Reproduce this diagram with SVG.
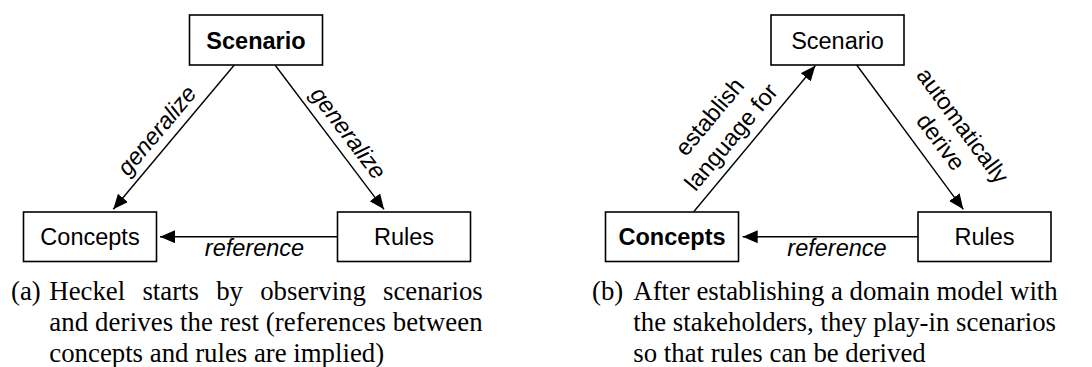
<svg xmlns="http://www.w3.org/2000/svg" width="1092" height="367" viewBox="0 0 1092 367">
  <style>
    .box { fill: #ffffff; stroke: #000000; stroke-width: 1.6; }
    .lbl { font-family: "Liberation Sans", Arial, sans-serif; font-size: 23.5px; fill: #000000; text-anchor: middle; }
    .bold { font-weight: bold; }
    .edge { stroke: #000000; stroke-width: 1.4; fill: none; marker-end: url(#arrow); }
    .elbl { font-family: "Liberation Sans", Arial, sans-serif; font-size: 23.5px; fill: #000000; text-anchor: middle; }
    .it { font-style: italic; }
    .cap { font-family: "Liberation Serif", "Times New Roman", serif; font-size: 26.8px; fill: #000000; }
  </style>
  <defs>
    <marker id="arrow" markerUnits="userSpaceOnUse" markerWidth="16" markerHeight="14" refX="15" refY="6.5" orient="auto">
      <path d="M0,0 L15,6.5 L0,13 Z" fill="#000000"/>
    </marker>
  </defs>
  <rect width="1092" height="367" fill="#ffffff"/>

  <!-- (a) scenario-first workflow -->
  <g id="connectors-a">
    <line class="edge" x1="234.3" y1="65" x2="113.3" y2="209.3"/>
    <line class="edge" x1="275" y1="65" x2="384" y2="209.3"/>
    <line class="edge" x1="337.3" y1="236.7" x2="160" y2="236.7"/>
    <text class="elbl it" transform="translate(162.9,135.6) rotate(-50)">generalize</text>
    <text class="elbl it" transform="translate(341.9,137.8) rotate(52.9)">generalize</text>
    <text class="elbl it" x="254.5" y="256">reference</text>
  </g>
  <g id="a-scenario">
    <rect class="box" x="189.5" y="15" width="133" height="50"/>
    <text class="lbl bold" x="256" y="48.5">Scenario</text>
  </g>
  <g id="a-concepts">
    <rect class="box" x="23.5" y="212" width="133" height="49.5"/>
    <text class="lbl" x="90" y="245">Concepts</text>
  </g>
  <g id="a-rules">
    <rect class="box" x="337.5" y="212" width="133" height="49.5"/>
    <text class="lbl" x="404" y="245">Rules</text>
  </g>

  <!-- (b) domain-model-first workflow -->
  <g id="connectors-b">
    <line class="edge" x1="693.7" y1="211.7" x2="815.3" y2="65.7"/>
    <line class="edge" x1="856.7" y1="65" x2="963.3" y2="209.3"/>
    <line class="edge" x1="917.7" y1="236.7" x2="742.7" y2="236.7"/>
    <text class="elbl" transform="translate(715.6,121.9) rotate(-50.2)">establish</text>
    <text class="elbl" transform="translate(737.3,142.1) rotate(-50.2)">language for</text>
    <text class="elbl" transform="translate(956.2,130.3) rotate(53.5)">automatically</text>
    <text class="elbl" transform="translate(934.4,146.6) rotate(53.5)">derive</text>
    <text class="elbl it" x="837" y="256">reference</text>
  </g>
  <g id="b-scenario">
    <rect class="box" x="771" y="15" width="133" height="50"/>
    <text class="lbl" x="837.5" y="48.5">Scenario</text>
  </g>
  <g id="b-concepts">
    <rect class="box" x="605.5" y="212" width="133" height="49.5"/>
    <text class="lbl bold" x="672" y="245">Concepts</text>
  </g>
  <g id="b-rules">
    <rect class="box" x="918" y="212" width="133" height="49.5"/>
    <text class="lbl" x="984.5" y="245">Rules</text>
  </g>

  <!-- captions: first lines justified word by word -->
  <g id="caption-a" class="cap">
    <text x="11" y="300">(a)</text>
    <text x="49.3" y="300">Heckel</text>
    <text x="142.4" y="300">starts</text>
    <text x="216.2" y="300">by</text>
    <text x="260.2" y="300">observing</text>
    <text x="383" y="300">scenarios</text>
    <text x="49.3" y="331" textLength="433.4" lengthAdjust="spacing">and derives the rest (references between</text>
    <text x="49.3" y="361.5">concepts and rules are implied)</text>
  </g>
  <g id="caption-b" class="cap">
    <text x="592" y="300">(b)</text>
    <text x="633.3" y="300" textLength="424.4" lengthAdjust="spacing">After establishing a domain model with</text>
    <text x="633.3" y="331" textLength="422.7" lengthAdjust="spacing">the stakeholders, they play-in scenarios</text>
    <text x="633.3" y="361.5">so that rules can be derived</text>
  </g>
</svg>
